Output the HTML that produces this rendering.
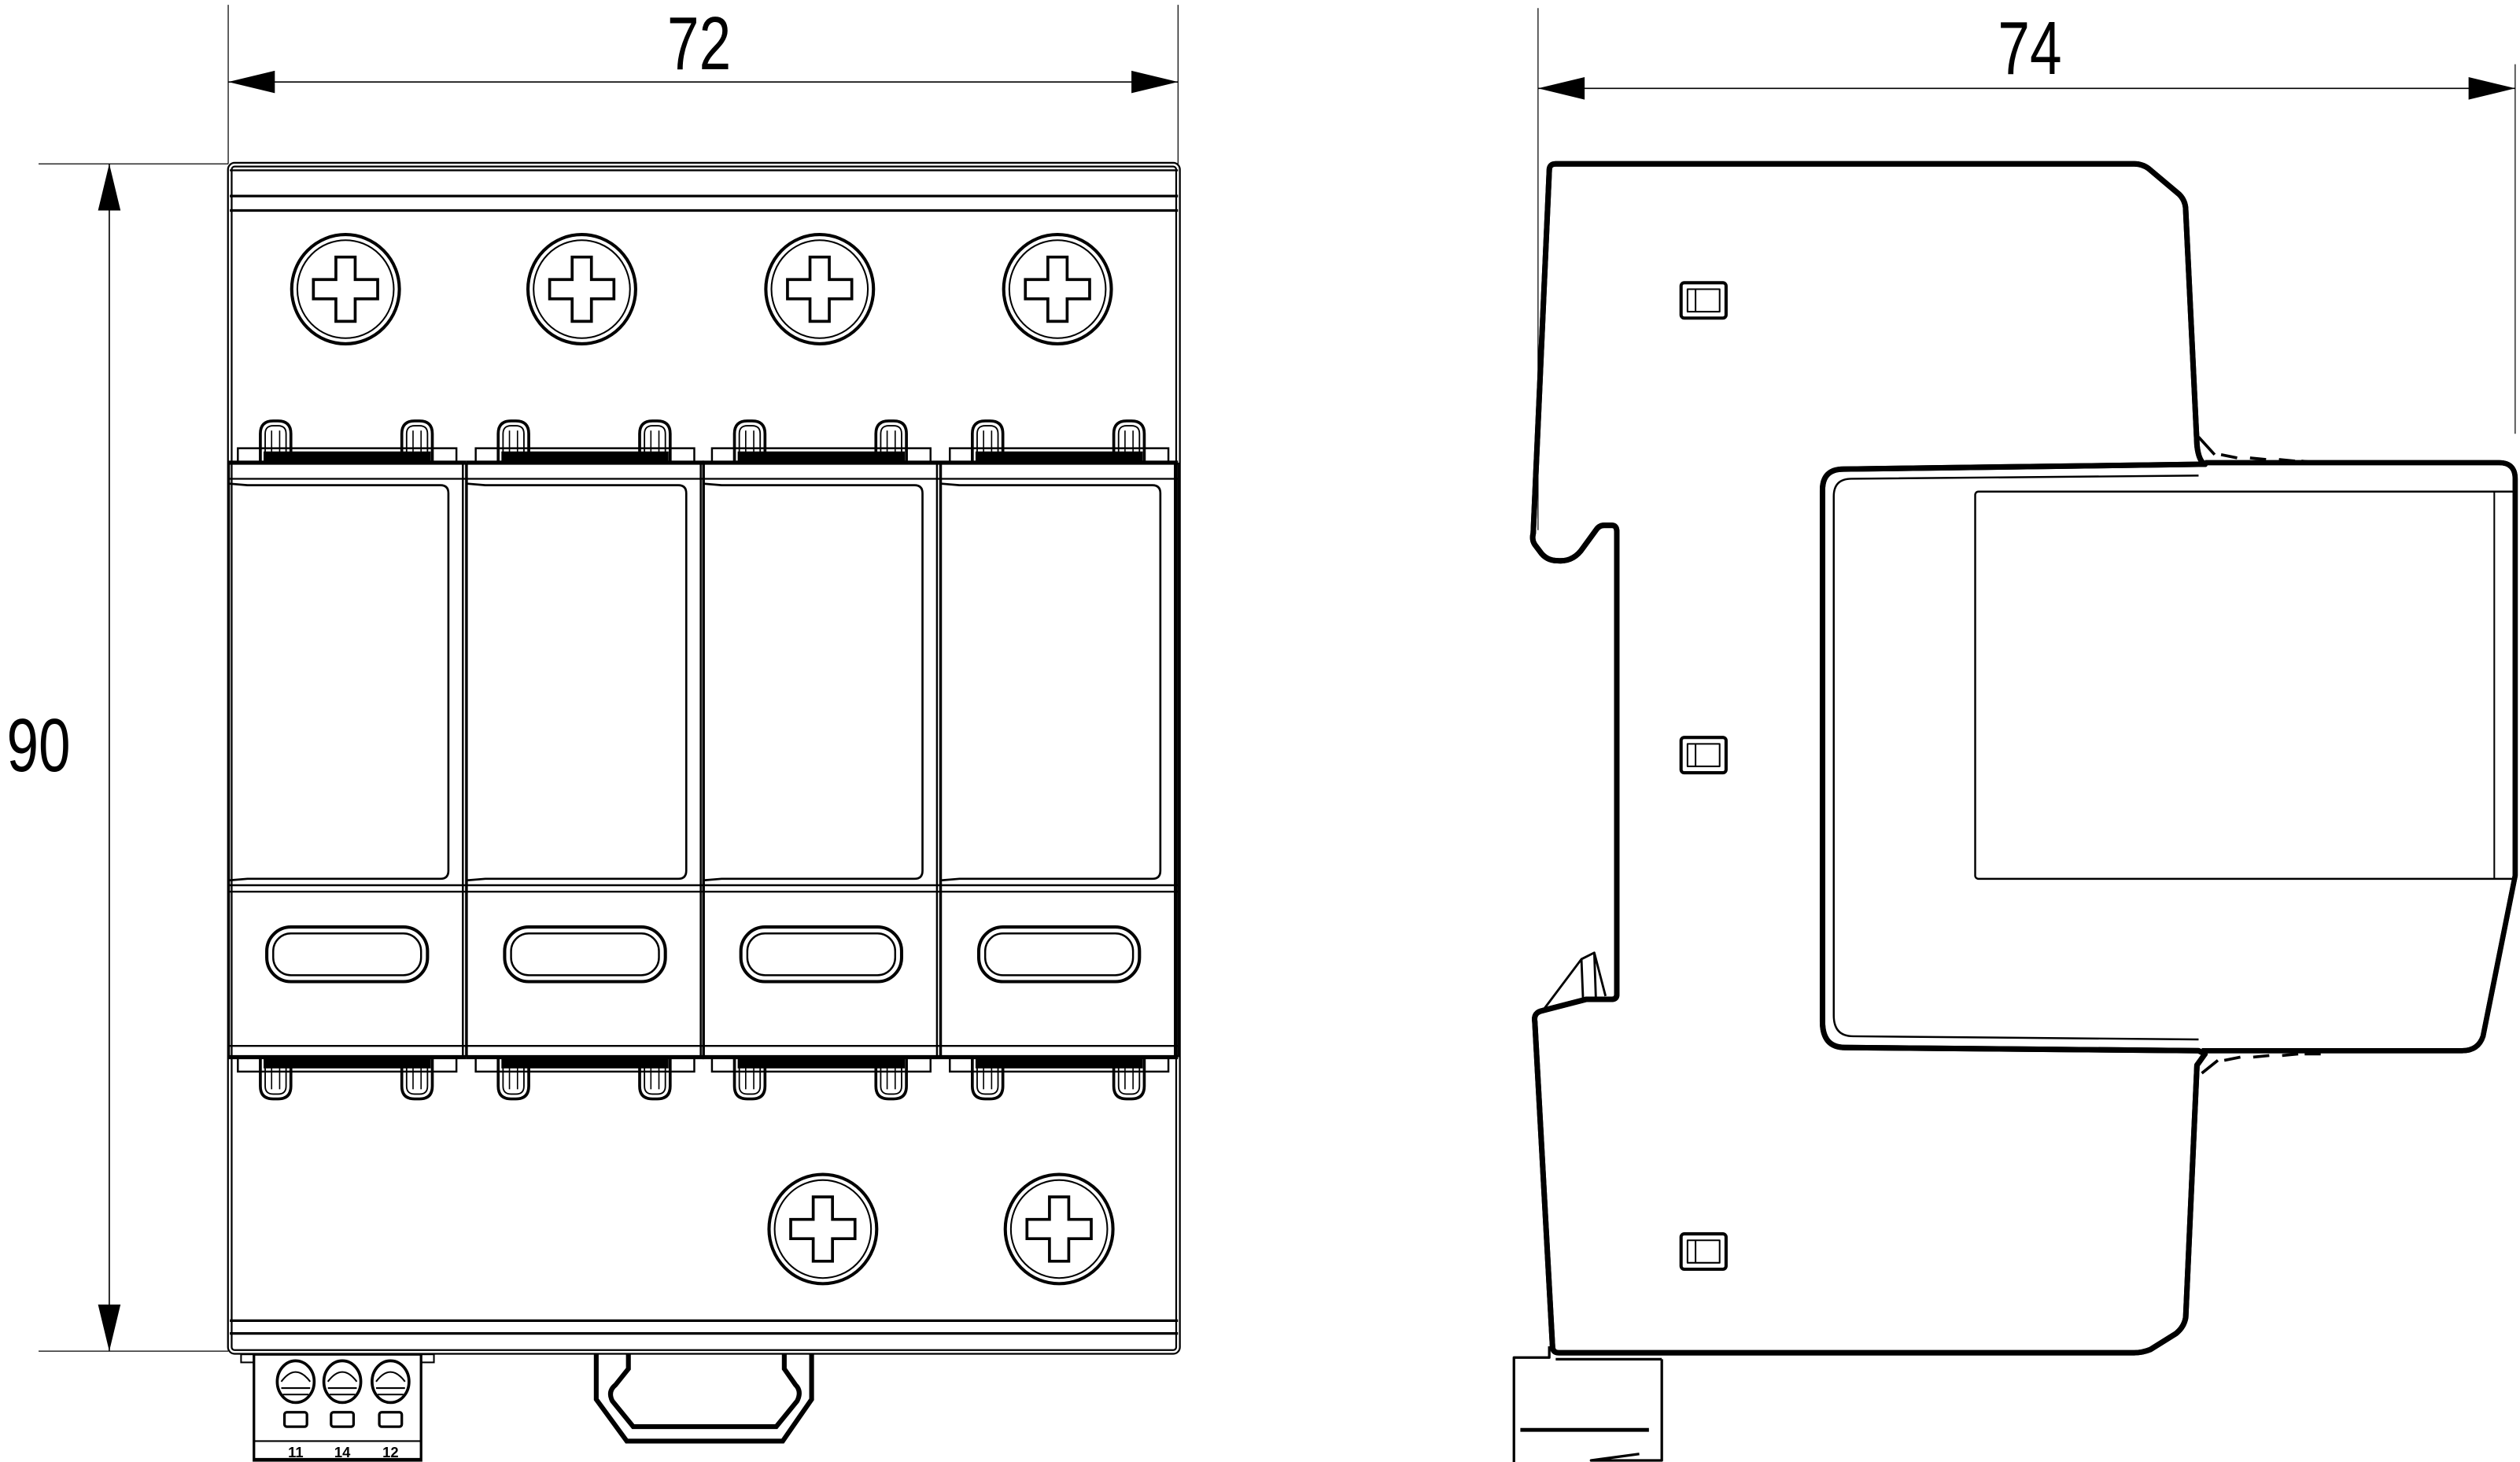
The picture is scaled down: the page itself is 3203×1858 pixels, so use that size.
<!DOCTYPE html>
<html><head><meta charset="utf-8"><style>
html,body{margin:0;padding:0;background:#fff;}
svg{display:block;}
text{font-family:"Liberation Sans Narrow","Liberation Sans",sans-serif;fill:#000;}
</style></head><body>
<svg width="3203" height="1858" viewBox="0 0 1568 910" preserveAspectRatio="none" xmlns="http://www.w3.org/2000/svg">
<defs>
<g id="screw">
 <ellipse cx="0" cy="0" rx="33.5" ry="34" fill="none" stroke="#000" stroke-width="2"/>
 <ellipse cx="0" cy="0" rx="30" ry="30.5" fill="none" stroke="#000" stroke-width="1"/>
 <path d="M-6,-20 H6 V-6 H20 V6 H6 V20 H-6 V6 H-20 V-6 H-6 Z" fill="none" stroke="#000" stroke-width="1.8"/>
</g>
<g id="cap">
 <path d="M0,25 V8 Q0,0 8,0 H11 Q19,0 19,8 V25" fill="none" stroke="#000" stroke-width="1.8"/>
 <path d="M3,25 V8 Q3,3 8,3 H11 Q16,3 16,8 V25" fill="none" stroke="#000" stroke-width="0.9"/>
 <line x1="7" y1="6" x2="7" y2="25" stroke="#000" stroke-width="0.8"/>
 <line x1="12" y1="6" x2="12" y2="25" stroke="#000" stroke-width="0.8"/>
</g>
<g id="module">
 <line x1="0.5" y1="288" x2="0.5" y2="658" stroke="#000" stroke-width="1.2"/>
 <line x1="146" y1="288" x2="146" y2="658" stroke="#000" stroke-width="1.2"/>
 <line x1="148" y1="288" x2="148" y2="658" stroke="#000" stroke-width="1.2"/>
 <line x1="0" y1="288" x2="148" y2="288" stroke="#000" stroke-width="2.6"/>
 <line x1="0" y1="298" x2="148" y2="298" stroke="#000" stroke-width="1.1"/>
 <path d="M0,301 L12,302 H132 Q137,302 137,307 V542 Q137,547 132,547 H12 L0,548" fill="none" stroke="#000" stroke-width="1.3"/>
 <line x1="0" y1="551" x2="148" y2="551" stroke="#000" stroke-width="1.2"/>
 <line x1="0" y1="555" x2="148" y2="555" stroke="#000" stroke-width="1.2"/>
 <rect x="24" y="577" width="100" height="34" rx="15" fill="none" stroke="#000" stroke-width="2"/>
 <rect x="28" y="581" width="92" height="26" rx="11" fill="none" stroke="#000" stroke-width="1.2"/>
 <line x1="0" y1="651" x2="148" y2="651" stroke="#000" stroke-width="1.2"/>
 <line x1="0" y1="658" x2="148" y2="658" stroke="#000" stroke-width="2.6"/>
 <rect x="6" y="279" width="136" height="9" fill="none" stroke="#000" stroke-width="1.2"/>
 <rect x="22" y="281" width="104" height="6" fill="#000"/>
 <g transform="translate(20,262)"><use href="#cap"/></g>
 <g transform="translate(108,262)"><use href="#cap"/></g>
 <rect x="6" y="658" width="136" height="9" fill="none" stroke="#000" stroke-width="1.2"/>
 <rect x="22" y="659" width="104" height="6" fill="#000"/>
 <g transform="translate(20,684) scale(1,-1)"><use href="#cap"/></g>
 <g transform="translate(108,684) scale(1,-1)"><use href="#cap"/></g>
</g>
</defs>

<line x1="142" y1="3" x2="142" y2="102" stroke="#000" stroke-width="0.6"/>
<line x1="733" y1="3" x2="733" y2="102" stroke="#000" stroke-width="0.6"/>
<line x1="142" y1="51" x2="733" y2="51" stroke="#000" stroke-width="0.8"/>
<polygon points="142,51 171,44 171,58" fill="#000"/>
<polygon points="733,51 704,44 704,58" fill="#000"/>
<text transform="translate(435,43) scale(0.76,1)" font-size="47" text-anchor="middle">72</text>

<line x1="24" y1="102" x2="142" y2="102" stroke="#000" stroke-width="0.6"/>
<line x1="24" y1="841" x2="142" y2="841" stroke="#000" stroke-width="0.6"/>
<line x1="68" y1="102" x2="68" y2="841" stroke="#000" stroke-width="0.8"/>
<polygon points="68,102 61,131 75,131" fill="#000"/>
<polygon points="68,841 61,812 75,812" fill="#000"/>
<text transform="translate(24,480) scale(0.76,1)" font-size="47" text-anchor="middle">90</text>

<rect x="143" y="102.5" width="590" height="739" rx="3" fill="none" stroke="#000" stroke-width="3.4"/>
<rect x="143" y="102.5" width="590" height="739" rx="3" fill="none" stroke="#fff" stroke-width="1.2"/>
<line x1="143" y1="106" x2="733" y2="106" stroke="#000" stroke-width="1.2"/>
<line x1="143" y1="122" x2="733" y2="122" stroke="#000" stroke-width="1.6"/>
<line x1="143" y1="131" x2="733" y2="131" stroke="#000" stroke-width="1.6"/>

<use href="#screw" x="215" y="180"/>
<use href="#screw" x="362" y="180"/>
<use href="#screw" x="510" y="180"/>
<use href="#screw" x="658" y="180"/>

<use href="#module" x="142" y="0"/>
<use href="#module" x="290" y="0"/>
<use href="#module" x="437" y="0"/>
<use href="#module" x="585" y="0"/>

<use href="#screw" x="512" y="765"/>
<use href="#screw" x="659" y="765"/>

<line x1="143" y1="822" x2="733" y2="822" stroke="#000" stroke-width="1.6"/>
<line x1="143" y1="830" x2="733" y2="830" stroke="#000" stroke-width="1.6"/>

<rect x="158" y="843" width="104" height="66" fill="none" stroke="#000" stroke-width="1.6"/>
<line x1="158" y1="897" x2="262" y2="897" stroke="#000" stroke-width="1"/>
<line x1="158" y1="908" x2="262" y2="908" stroke="#000" stroke-width="1"/>
<rect x="150" y="843" width="8" height="5" fill="none" stroke="#000" stroke-width="1"/>
<rect x="262" y="843" width="8" height="5" fill="none" stroke="#000" stroke-width="1"/>
<g fill="none" stroke="#000">
 <ellipse cx="184" cy="860" rx="11.5" ry="13" stroke-width="1.8"/>
 <ellipse cx="213" cy="860" rx="11.5" ry="13" stroke-width="1.8"/>
 <ellipse cx="243" cy="860" rx="11.5" ry="13" stroke-width="1.8"/>
 <path d="M175,860 Q184,848 193,860 M175,864 H193 M176,868 H192" stroke-width="1"/>
 <path d="M204,860 Q213,848 222,860 M204,864 H222 M205,868 H221" stroke-width="1"/>
 <path d="M234,860 Q243,848 252,860 M234,864 H252 M235,868 H251" stroke-width="1"/>
 <rect x="177" y="879" width="14" height="9" rx="1.5" stroke-width="1.6"/>
 <rect x="206" y="879" width="14" height="9" rx="1.5" stroke-width="1.6"/>
 <rect x="236" y="879" width="14" height="9" rx="1.5" stroke-width="1.6"/>
</g>
<text x="184" y="907" font-size="9" font-weight="bold" text-anchor="middle">11</text>
<text x="213" y="907" font-size="9" font-weight="bold" text-anchor="middle">14</text>
<text x="243" y="907" font-size="9" font-weight="bold" text-anchor="middle">12</text>

<path d="M371,843 V871 L390,897 H487 L505,871 V843 M488,843 V852 L495,862 Q499,866 496,872 L483,888 H394 L381,872 Q378,866 383,862 L391,852 V843" fill="none" stroke="#000" stroke-width="3"/>

<line x1="957" y1="5" x2="957" y2="330" stroke="#000" stroke-width="0.6"/>
<line x1="1565" y1="40" x2="1565" y2="270" stroke="#000" stroke-width="0.6"/>
<line x1="957" y1="55" x2="1565" y2="55" stroke="#000" stroke-width="0.8"/>
<polygon points="957,55 986,48 986,62" fill="#000"/>
<polygon points="1565,55 1536,48 1536,62" fill="#000"/>
<text transform="translate(1263,46) scale(0.76,1)" font-size="47" text-anchor="middle">74</text>

<g fill="none" stroke-linejoin="round">
 <path id="body" d="M968,102 H1328 Q1333,102 1337,105 L1356,121 Q1360,125 1360,131 L1367,277 Q1368,287 1372,289 L1368,289 L1147,292 Q1134,292 1134,305 V636 Q1134,652 1148,652 L1368,654 L1372,656 L1367,663 L1360,820 Q1359,826 1354,830 L1338,840 Q1333,842 1328,842 L970,842 Q966,842 966,838 L955,636 Q954,630 960,629 L987,622 L1003,622 Q1006,622 1006,619 V331 Q1006,327 1003,327 L998,327 Q995,327 993,330 L985,341 Q979,350 969,349 Q962,349 958,343 L955,339 Q953,336 954,332 L964,106 Q964,102 968,102 Z" stroke="#000" stroke-width="3.4"/>
 <use href="#body" stroke="#fff" stroke-width="1.2"/>
 <path id="mod" d="M1372,288 L1555,288 Q1565,288 1565,298 V545 L1545,645 Q1542,654 1532,654 L1370,654" stroke="#000" stroke-width="3.2"/>
 <use href="#mod" stroke="#fff" stroke-width="1.1"/>
 <path d="M1368,296 L1152,298 Q1141,298 1141,309 V632 Q1141,645 1153,645 L1368,647" stroke="#000" stroke-width="1.2"/>
 <rect x="1229" y="306" width="336" height="241" rx="2" stroke="#000" stroke-width="1.2"/>
 <line x1="1552" y1="306" x2="1552" y2="547" stroke="#000" stroke-width="1"/>
 <path d="M960,629 L984,597 L992,593 L999,620 M984,597 L985,622 M992,593 L993,622" stroke="#000" stroke-width="1.4"/>
 <path d="M1368,272 L1378,283 M1382,283 L1392,285 M1400,285 L1410,286 M1418,286 L1428,287 M1432,287 L1442,288" stroke="#000" stroke-width="1.8"/>
 <path d="M1370,668 L1380,660 M1384,660 L1394,658 M1402,658 L1412,657 M1420,657 L1430,656 M1434,656 L1444,656" stroke="#000" stroke-width="1.8"/>
 <g stroke="#000">
  <rect x="1046" y="176" width="28" height="22" rx="2" stroke-width="2"/>
  <rect x="1050" y="180" width="20" height="14" stroke-width="1"/>
  <line x1="1055" y1="180" x2="1055" y2="194" stroke-width="1"/>
  <rect x="1046" y="459" width="28" height="22" rx="2" stroke-width="2"/>
  <rect x="1050" y="463" width="20" height="14" stroke-width="1"/>
  <line x1="1055" y1="463" x2="1055" y2="477" stroke-width="1"/>
  <rect x="1046" y="768" width="28" height="22" rx="2" stroke-width="2"/>
  <rect x="1050" y="772" width="20" height="14" stroke-width="1"/>
  <line x1="1055" y1="772" x2="1055" y2="786" stroke-width="1"/>
 </g>
 <path d="M964,838 V845 H942 V910 M1034,846 V909 H990 L1020,905 M968,846 H1034" stroke="#000" stroke-width="1.6"/>
 <line x1="946" y1="890" x2="1026" y2="890" stroke="#000" stroke-width="2.4"/>
</g>
</svg>
</body></html>
